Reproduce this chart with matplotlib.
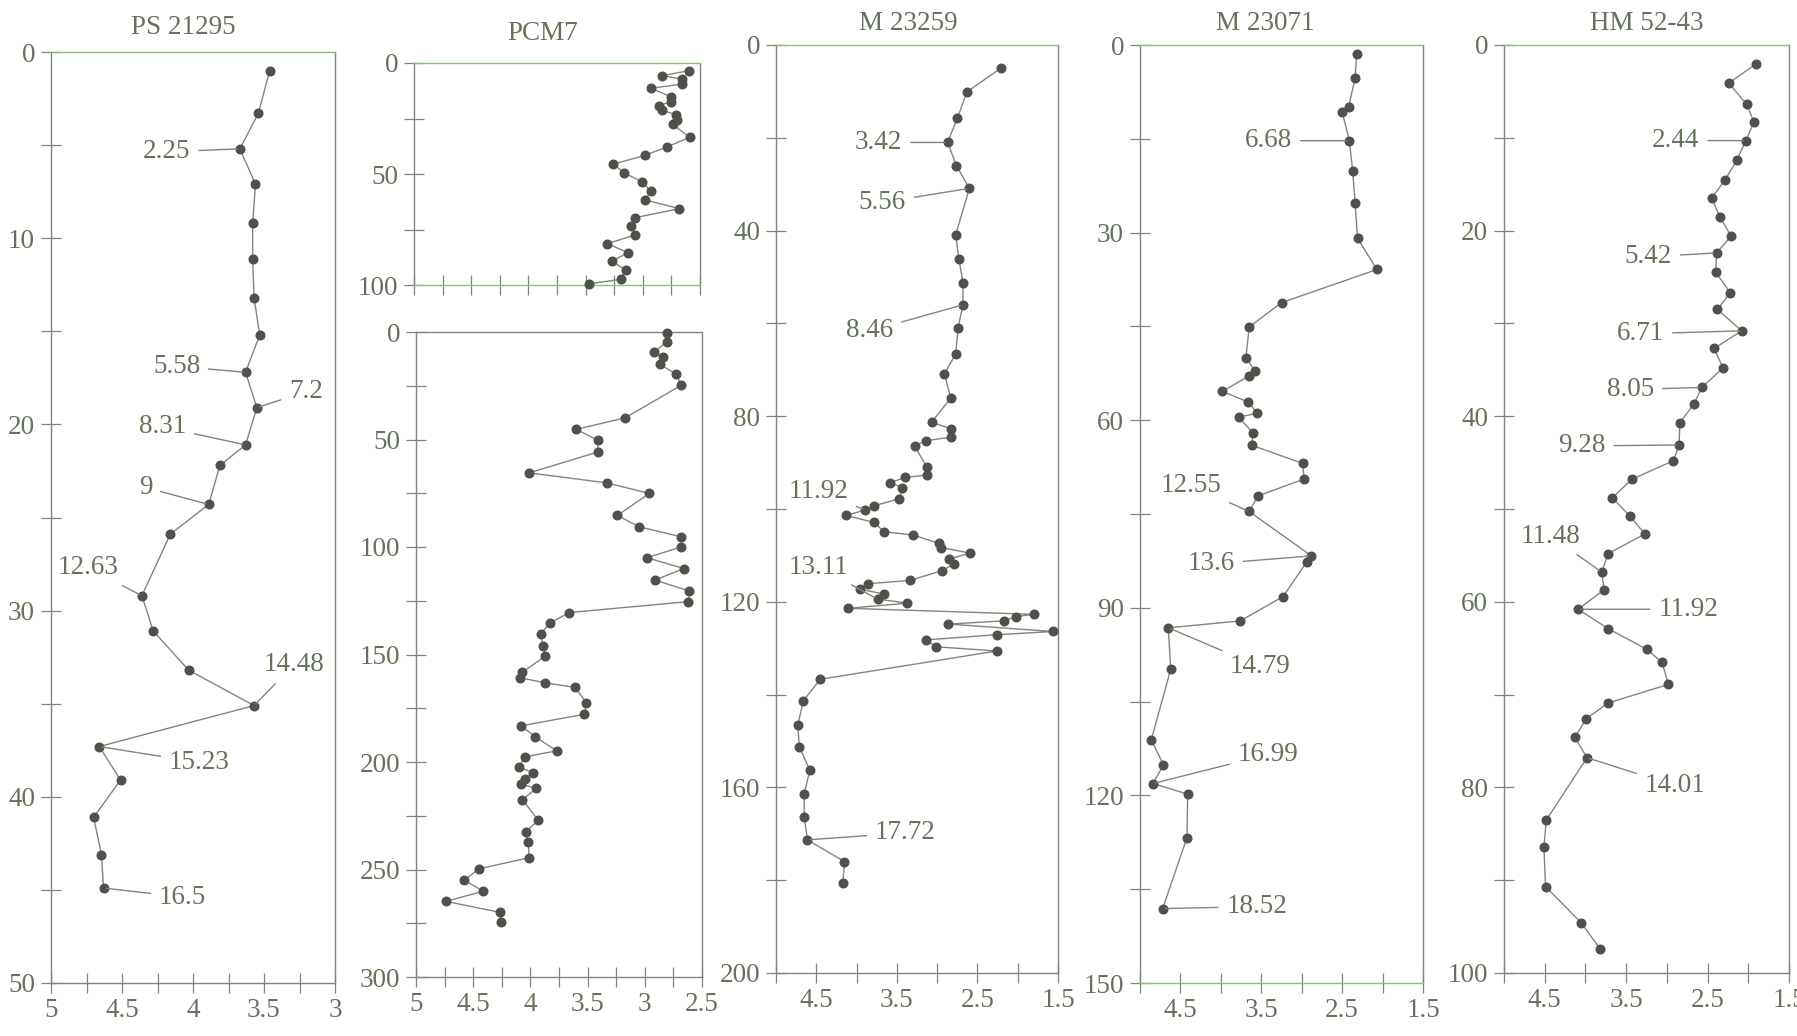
import matplotlib
matplotlib.use("Agg")
import matplotlib.pyplot as plt
from matplotlib.ticker import FixedLocator, FuncFormatter
import numpy as np

plt.rcParams["font.family"] = ["Liberation Serif", "DejaVu Serif"]

# ---------------- data: depth (cm) and isotope value per core ----------------
ps_depth = [1.0, 3.3, 5.2, 7.1, 9.2, 11.1, 13.2, 15.2, 17.2, 19.1, 21.1, 22.2, 24.3,
            25.9, 29.2, 31.1, 33.2, 35.1, 37.3, 39.1, 41.1, 43.1, 44.9]
ps_value = [3.46, 3.54, 3.67, 3.56, 3.58, 3.58, 3.57, 3.53, 3.63, 3.55, 3.63, 3.81, 3.89,
            4.16, 4.36, 4.28, 4.03, 3.57, 4.66, 4.51, 4.70, 4.645, 4.63]
ps_ages = ["2.25", "5.58", "7.2", "8.31", "9", "12.63", "14.48", "15.23", "16.5"]
ps_age_idx = [2, 8, 9, 10, 12, 14, 17, 18, 22]

pcm_top_depth = [3.5, 5.7, 7.2, 9.5, 11.4, 15.2, 17.4, 19.2, 21.2, 23.4, 25.7, 27.6, 33.5,
                 37.8, 41.6, 45.6, 49.5, 53.5, 57.7, 61.7, 65.6, 69.7, 73.4, 77.5, 81.4,
                 85.4, 89.3, 93.2, 97.4, 99.5]
pcm_top_value = [2.60, 2.83, 2.66, 2.66, 2.93, 2.75, 2.75, 2.86, 2.83, 2.71, 2.70, 2.74, 2.59,
                 2.79, 2.98, 3.26, 3.16, 3.01, 2.93, 2.98, 2.68, 3.07, 3.10, 3.07, 3.31,
                 3.13, 3.27, 3.15, 3.19, 3.47]

pcm_bot_depth = [0.5, 4.5, 9.5, 11.8, 14.9, 19.6, 24.7, 39.9, 45.3, 50.3, 55.8, 65.5, 70.2,
                 75.1, 85.3, 90.6, 95.3, 99.9, 105.0, 110.0, 115.4, 120.5, 125.4, 130.5,
                 135.4, 140.4, 145.9, 150.7, 158.3, 160.8, 163.2, 165.3, 172.4, 177.8,
                 183.2, 188.2, 194.8, 197.6, 202.5, 204.9, 207.7, 210.3, 212.3, 217.6,
                 227.1, 232.4, 237.1, 244.5, 249.7, 255.0, 260.1, 264.8, 269.9, 274.6]
pcm_bot_value = [2.81, 2.81, 2.92, 2.84, 2.87, 2.73, 2.68, 3.17, 3.60, 3.41, 3.41, 4.01, 3.33,
                 2.96, 3.24, 3.05, 2.68, 2.68, 2.98, 2.66, 2.91, 2.61, 2.62, 3.66,
                 3.83, 3.91, 3.89, 3.87, 4.07, 4.09, 3.87, 3.61, 3.51, 3.53,
                 4.08, 3.96, 3.77, 4.05, 4.10, 3.98, 4.05, 4.08, 3.95, 4.07,
                 3.93, 4.04, 4.02, 4.01, 4.45, 4.58, 4.41, 4.74, 4.27, 4.26]

m59_depth = [5.0, 10.1, 15.8, 21.0, 26.0, 30.9, 40.9, 46.1, 51.2, 56.0, 60.9, 66.6, 70.9,
             76.1, 81.3, 82.7, 84.5, 85.3, 86.4, 90.9, 92.7, 93.2, 94.3, 95.4, 97.8, 99.3,
             100.2, 101.4, 102.9, 104.9, 105.6, 107.4, 108.3, 109.5, 110.8, 111.8, 113.3,
             115.4, 116.1, 117.3, 118.3, 119.4, 120.3, 121.4, 122.7, 123.2, 124.1, 124.8,
             126.4, 127.1, 128.2, 129.7, 130.6, 136.7, 141.3, 146.6, 151.2, 156.3, 161.4,
             166.3, 171.3, 176.0, 180.5]
m59_value = [2.21, 2.63, 2.75, 2.87, 2.76, 2.60, 2.77, 2.73, 2.68, 2.68, 2.74, 2.77, 2.91,
             2.83, 3.07, 2.83, 2.83, 3.14, 3.28, 3.13, 3.13, 3.40, 3.58, 3.43, 3.47, 3.78,
             3.89, 4.13, 3.78, 3.66, 3.30, 2.98, 2.95, 2.59, 2.85, 2.79, 2.94,
             3.34, 3.86, 3.96, 3.66, 3.74, 3.37, 4.11, 1.80, 2.02, 2.17, 2.86,
             1.56, 2.26, 3.14, 3.01, 2.26, 4.45, 4.66, 4.73, 4.71, 4.58, 4.65,
             4.65, 4.61, 4.15, 4.17]
m59_ages = ["3.42", "5.56", "8.46", "11.92", "13.11", "17.72"]
m59_age_idx = [3, 5, 9, 26, 41, 60]

m71_depth = [1.4, 5.3, 9.9, 10.7, 15.3, 20.1, 25.2, 30.9, 35.9, 41.2, 45.1, 50.0, 52.1,
             52.9, 55.4, 57.1, 58.9, 59.5, 62.1, 64.0, 66.9, 69.4, 72.1, 74.6, 81.7, 82.7,
             88.2, 92.1, 93.2, 99.8, 111.1, 115.1, 118.1, 119.8, 126.8, 138.1]
m71_value = [2.32, 2.34, 2.42, 2.50, 2.41, 2.37, 2.34, 2.31, 2.07, 3.25, 3.65, 3.69, 3.58,
             3.65, 3.98, 3.66, 3.55, 3.78, 3.60, 3.62, 2.99, 2.97, 3.54, 3.65, 2.88, 2.94,
             3.23, 3.76, 4.65, 4.62, 4.86, 4.71, 4.84, 4.41, 4.42, 4.72]
m71_ages = ["6.68", "12.55", "13.6", "14.79", "16.99", "18.52"]
m71_age_idx = [4, 23, 24, 28, 32, 35]

hm_depth = [2.0, 4.1, 6.4, 8.3, 10.3, 12.4, 14.6, 16.5, 18.5, 20.6, 22.4, 24.5, 26.7, 28.5,
            30.8, 32.7, 34.8, 36.9, 38.7, 40.7, 43.1, 44.8, 46.8, 48.8, 50.8, 52.7, 54.8,
            56.8, 58.7, 60.8, 62.9, 65.1, 66.5, 68.9, 70.9, 72.6, 74.6, 76.8, 83.5, 86.4,
            90.7, 94.6, 97.4]
hm_value = [1.90, 2.24, 2.02, 1.93, 2.03, 2.14, 2.29, 2.45, 2.35, 2.21, 2.39, 2.40, 2.22, 2.38,
            2.08, 2.42, 2.31, 2.57, 2.67, 2.84, 2.85, 2.92, 3.43, 3.67, 3.45, 3.27, 3.72,
            3.80, 3.77, 4.09, 3.72, 3.25, 3.06, 2.98, 3.72, 3.99, 4.13, 3.98, 4.48, 4.51,
            4.49, 4.05, 3.82]
hm_ages = ["2.44", "5.42", "6.71", "8.05", "9.28", "11.48", "11.92", "14.01"]
hm_age_idx = [4, 10, 14, 17, 20, 27, 29, 37]

core_names = ["PS 21295", "PCM7", "M 23259", "M 23071", "HM 52-43"]

# ---------------- styling ----------------
W, H = 1797, 1036
TEXT = "#66725c"
SPINE = "#7f867a"
TOP_SPINE = "#8fbf78"
LINE = "#80877a"
MARK = "#4d524b"
FS = 19.5

fig = plt.figure(figsize=(W / 100, H / 100), dpi=100)
fig.patch.set_facecolor("white")


def add_axes(left, top, right, bottom):
    return fig.add_axes([left / W, 1 - bottom / H, (right - left) / W, (bottom - top) / H])


fmt = FuncFormatter(lambda v, p: "%g" % v)


def style(ax, xlim, xmajor, xminor, ylim, ymajor, yminor, xlabels=True,
          green_top=True, green_bottom=False):
    ax.set_xlim(*xlim)
    ax.set_ylim(*ylim)
    ax.xaxis.set_major_locator(FixedLocator(xmajor))
    ax.xaxis.set_minor_locator(FixedLocator(xminor))
    ax.yaxis.set_major_locator(FixedLocator(ymajor))
    ax.yaxis.set_minor_locator(FixedLocator(yminor))
    ax.xaxis.set_major_formatter(fmt)
    ax.yaxis.set_major_formatter(fmt)
    for s in ax.spines.values():
        s.set_color(SPINE)
        s.set_linewidth(1.0)
    if green_top:
        ax.spines["top"].set_color(TOP_SPINE)
    if green_bottom:
        ax.spines["bottom"].set_color(TOP_SPINE)
    ax.tick_params(which="both", direction="inout", length=15, width=0.9,
                   color=SPINE, labelcolor=TEXT, labelsize=FS)
    ax.tick_params(axis="y", which="both", pad=4)
    ax.tick_params(axis="x", which="both", pad=3)
    if not xlabels:
        ax.tick_params(axis="x", labelbottom=False)


def draw(ax, values, depth):
    ax.plot(values, depth, "-", color=LINE, lw=1.0, marker="o", ms=6.2,
            mfc=MARK, mec=MARK, clip_on=False, zorder=3)


def label(ax, values, depth, texts, idx, offsets):
    for t, i, (dx, dy) in zip(texts, idx, offsets):
        ax.annotate(t, xy=(values[i], depth[i]), xytext=(dx, dy),
                    textcoords="offset pixels", ha="center", va="center",
                    fontsize=FS, color=TEXT, annotation_clip=False,
                    arrowprops=dict(arrowstyle="-", color=LINE, lw=1.0,
                                    shrinkA=4, shrinkB=2))


x_q = np.arange(3.0, 5.001, 0.25)
x_h = np.arange(1.5, 5.001, 0.5)

# PS 21295
ax1 = add_axes(51, 52, 335, 983)
style(ax1, (5, 3), [5, 4.5, 4, 3.5, 3], x_q, (50, 0),
      np.arange(0, 51, 10), np.arange(5, 50, 10))
draw(ax1, ps_value, ps_depth)
label(ax1, ps_value, ps_depth, ps_ages, ps_age_idx,
      [(-73, -3), (-69, 6), (49, 16), (-83, 18), (-63, 17),
       (-54, 28), (40, 41), (100, -16), (79, -9)])

# PCM7 upper section
ax2a = add_axes(414, 63, 700, 285)
style(ax2a, (5, 2.5), [], np.arange(2.5, 5.001, 0.25), (100, 0),
      [0, 50, 100], [25, 75], xlabels=False, green_bottom=True)
draw(ax2a, pcm_top_value, pcm_top_depth)

# PCM7 lower section
ax2b = add_axes(416, 332, 702, 977)
style(ax2b, (5, 2.5), [5, 4.5, 4, 3.5, 3, 2.5], np.arange(2.5, 5.001, 0.25), (300, 0),
      np.arange(0, 301, 50), np.arange(25, 300, 50), green_top=False)
draw(ax2b, pcm_bot_value, pcm_bot_depth)

# M 23259
ax3 = add_axes(776, 45, 1058, 973)
style(ax3, (5, 1.5), [4.5, 3.5, 2.5, 1.5], x_h, (200, 0),
      np.arange(0, 201, 40), np.arange(20, 200, 40))
draw(ax3, m59_value, m59_depth)
label(ax3, m59_value, m59_depth, m59_ages, m59_age_idx,
      [(-69, 0), (-87, -14), (-93, -26), (-47, 18), (-59, 32), (98, 7)])

# M 23071
ax4 = add_axes(1140, 45, 1423, 983)
style(ax4, (5, 1.5), [4.5, 3.5, 2.5, 1.5], x_h, (150, 0),
      np.arange(0, 151, 30), np.arange(15, 150, 30), green_bottom=True)
draw(ax4, m71_value, m71_depth)
label(ax4, m71_value, m71_depth, m71_ages, m71_age_idx,
      [(-81, 0), (-58, 26), (-100, -8), (92, -39), (115, 29), (94, 2)])

# HM 52-43
ax5 = add_axes(1504, 45, 1789, 973)
style(ax5, (5, 1.5), [4.5, 3.5, 2.5, 1.5], x_h, (100, 0),
      np.arange(0, 101, 20), np.arange(10, 100, 20))
draw(ax5, hm_value, hm_depth)
label(ax5, hm_value, hm_depth, hm_ages, hm_age_idx,
      [(-70, 0), (-68, -4), (-101, -3), (-71, -2), (-97, -1), (-51, 36), (110, 0), (88, -28)])

# core names above each column
for name, (tx, ty) in zip(core_names, [(183, 27), (543, 33), (908, 23), (1265, 23), (1647, 23)]):
    fig.text(tx / W, 1 - ty / H, name, ha="center", va="center", fontsize=FS, color=TEXT)

fig.savefig("out.png", dpi=100)
